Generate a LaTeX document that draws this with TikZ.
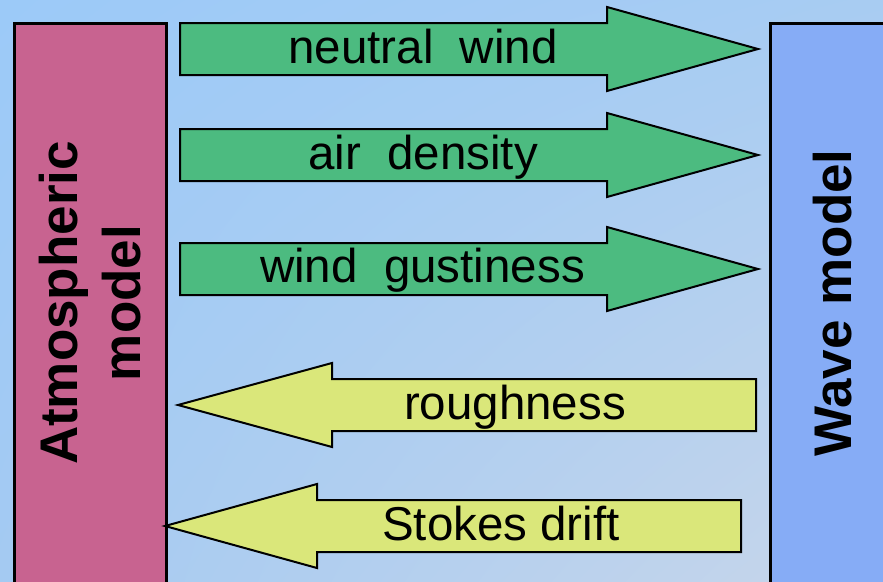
\documentclass[tikz,border=0pt]{standalone}
\usepackage{fontspec}
\setmainfont{Liberation Sans}
\usetikzlibrary{shadings}
\definecolor{atmfill}{HTML}{C86390}
\definecolor{wavefill}{HTML}{86ACF6}
\definecolor{arrowgreen}{HTML}{4CBB80}
\definecolor{arrowyellow}{HTML}{DAE77A}
\definecolor{bgul}{HTML}{9CCAF8}
\definecolor{bgur}{HTML}{A8CCF2}
\definecolor{bgll}{HTML}{A4CAF2}
\definecolor{bglr}{HTML}{C8D6EA}
\begin{document}
\begin{tikzpicture}[x=1pt,y=-1pt,
  modelbox/.style={draw=black,line width=3pt,rotate=90,inner sep=0pt,
    minimum width=560pt,align=center,
    font=\fontsize{53}{63}\selectfont\bfseries},
  outflow/.style={draw=black,line width=2pt,fill=arrowgreen,line join=miter},
  inflow/.style={draw=black,line width=2pt,fill=arrowyellow,line join=miter},
  flowlabel/.style={anchor=base,inner sep=0pt,font=\fontsize{47.5}{56}\selectfont}]
\useasboundingbox (0,0) rectangle (883,581);
\clip (0,0) rectangle (883,581);
% background
\shade[upper left=bgul,upper right=bgur,lower left=bgll,lower right=bglr]
  (0,0) rectangle (883,581);
% the two models
\node[modelbox,fill=atmfill,minimum height=152pt] (atm) at (90.5,303) {Atmospheric\\model};
\node[modelbox,fill=wavefill,minimum height=125pt] (wave) at (832.5,303) {Wave model};
% atmosphere -> waves
\draw[outflow] (180,23) -- (607,23) -- (607,7) -- (758,49) -- (607,91) -- (607,75) -- (180,75) -- cycle;
\node[flowlabel] (nw) at (423,63) {neutral\ \ wind};
\draw[outflow] (180,129) -- (607,129) -- (607,113) -- (758,155) -- (607,197) -- (607,181) -- (180,181) -- cycle;
\node[flowlabel] (ad) at (423,169) {air\ \ density};
\draw[outflow] (180,243) -- (607,243) -- (607,227) -- (758,269) -- (607,311) -- (607,295) -- (180,295) -- cycle;
\node[flowlabel] (wg) at (422.5,282) {wind\ \ gustiness};
% waves -> atmosphere
\draw[inflow] (756,379) -- (332,379) -- (332,363) -- (178,405) -- (332,447) -- (332,431) -- (756,431) -- cycle;
\node[flowlabel] (rg) at (515,419) {roughness};
\draw[inflow] (741,500) -- (317,500) -- (317,484) -- (165,526) -- (317,568) -- (317,552) -- (741,552) -- cycle;
\node[flowlabel] (sd) at (501,540) {Stokes drift};
\end{tikzpicture}
\end{document}
